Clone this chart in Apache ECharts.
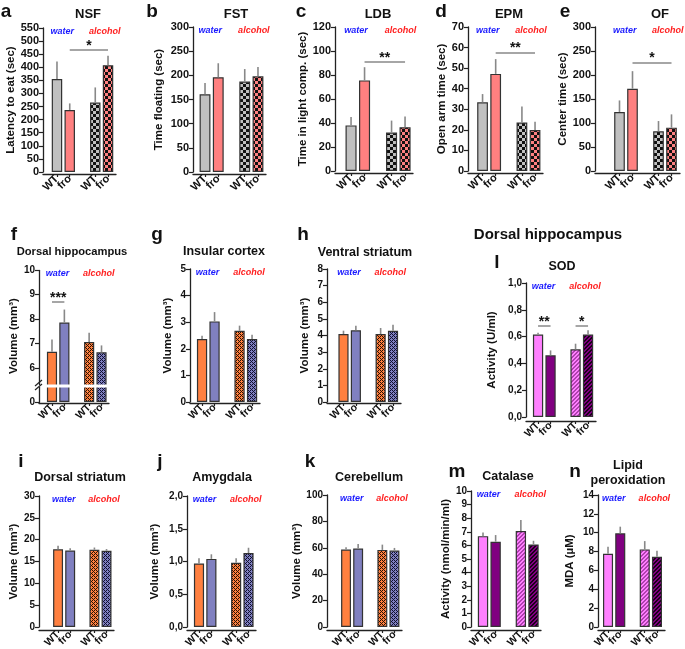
<!DOCTYPE html>
<html><head><meta charset="utf-8">
<script src="https://cdn.jsdelivr.net/npm/echarts@6.0.0/dist/echarts.min.js"></script>
<style>html,body{margin:0;padding:0;background:#fff}#c{width:685px;height:649px}</style>
</head><body><div id="c"></div>
<script>
// ---------- data ----------
const categories = ['WT', 'fro', '', 'WT', 'fro'];
const groupLabels = ['water', 'alcohol'];
const barSlots = [0, 1, 3, 4]; // water WT, water fro, alcohol WT, alcohol fro

// a NSF
const nsfMean = [355, 237, 265, 408];
const nsfSem = [67, 25, 58, 36];
const nsfSig = [[1, 4, 467, '*']];
// b FST
const fstMean = [161, 196, 187, 198];
const fstSem = [23, 29, 26, 19];
// c LDB
const ldbMean = [38, 75.5, 32, 36.5];
const ldbSem = [7, 11, 10, 9];
const ldbSig = [[1, 4, 91, '**']];
// d EPM
const epmMean = [33.4, 47.2, 23.6, 19.9];
const epmSem = [4, 7.2, 7.7, 4];
const epmSig = [[1, 4, 57.6, '**']];
// e OF
const ofMean = [123, 171.5, 82.6, 90.3];
const ofSem = [24, 36.5, 21.5, 27.7];
const ofSig = [[1, 4, 226, '*']];
// f dorsal hippocampus volume
const dhMean = [6.67, 7.86, 7.07, 6.65];
const dhSem = [0.5, 0.53, 0.38, 0.28];
const dhSig = [[0, 1, 8.7, '***']];
const dhTicks = [0, 6, 7, 8, 9, 10];
// g insular cortex
const icMean = [2.37, 3.03, 2.68, 2.37];
const icSem = [0.12, 0.35, 0.19, 0.16];
// h ventral striatum
const vsMean = [4.09, 4.31, 4.09, 4.29];
const vsSem = [0.2, 0.28, 0.36, 0.36];
// l SOD
const sodMean = [0.615, 0.46, 0.505, 0.615];
const sodSem = [0.013, 0.037, 0.042, 0.033];
const sodSig = [[0, 1, 0.678, '**'], [3, 4, 0.678, '*']];
// i dorsal striatum
const dsMean = [17.8, 17.5, 17.7, 17.45];
const dsSem = [0.8, 0.55, 0.5, 0.4];
// j amygdala
const amMean = [0.97, 1.04, 0.98, 1.13];
const amSem = [0.08, 0.07, 0.07, 0.08];
// k cerebellum
const cbMean = [58.7, 59.4, 58.4, 57.9];
const cbSem = [1.7, 3.5, 4, 2];
// m catalase
const catMean = [6.68, 6.27, 7.05, 6.07];
const catSem = [0.27, 0.49, 0.81, 0.27];
// n lipid peroxidation
const mdaMean = [7.77, 9.93, 8.23, 7.45];
const mdaSem = [0.73, 0.71, 0.88, 0.64];

// ---------- styles ----------
const FONT = '"Liberation Sans", Arial, sans-serif';
function tile(size, base, dark, isBase) {
  const c = document.createElement('canvas');
  c.width = size; c.height = size;
  const g = c.getContext('2d');
  g.fillStyle = dark; g.fillRect(0, 0, size, size);
  g.fillStyle = base;
  for (let x = 0; x < size; x++) for (let y = 0; y < size; y++) if (isBase(x, y)) g.fillRect(x, y, 1, 1);
  return { image: c, repeat: 'repeat' };
}
function wrapDist(a, b, n) { const d = Math.abs(a - b); return Math.min(d, n - d); }
function diamond(base, dark, n, r) {
  const h = n / 2;
  return tile(n, base, dark, (x, y) => {
    const d1 = wrapDist(x, 1, n) + wrapDist(y, 1, n);
    const d2 = wrapDist(x, 1 + h, n) + wrapDist(y, 1 + h, n);
    return d1 <= r || d2 <= r;
  });
}
function dots(base, dark) {
  // rounded dots of the base colour on a dark ground, diagonal lattice
  return tile(6, base, dark, (x, y) => {
    const a = wrapDist(x, 1, 6) ** 2 + wrapDist(y, 1, 6) ** 2;
    const b = wrapDist(x, 4, 6) ** 2 + wrapDist(y, 4, 6) ** 2;
    return a <= 2 || b <= 2 || a === 4 && (x === 1 || y === 1) && false;
  });
}
function stripes(base, dark) {
  return tile(4, base, dark, (x, y) => ((x + y) % 4) >= 2);
}
const schemes = {
  behav: ['#c0c0c0', '#ff8080', dots('#c0c0c0', '#111'), dots('#ff8080', '#111')],
  vol: ['#ff8040', '#8080c0', diamond('#ff8040', '#2a1000', 4, 1), diamond('#8080c0', '#101030', 4, 1)],
  ox: ['#ff80ff', '#800080', stripes('#ff80ff', '#b040b0'), stripes('#800080', '#1a001a')]
};

const panels = [
  { id: 'a', title: 'NSF', yName: 'Latency to eat (sec)', max: 550, step: 50, mean: nsfMean, sem: nsfSem, sig: nsfSig, scheme: 'behav' },
  { id: 'b', title: 'FST', yName: 'Time floating (sec)', max: 300, step: 50, mean: fstMean, sem: fstSem, sig: [], scheme: 'behav' },
  { id: 'c', title: 'LDB', yName: 'Time in light comp. (sec)', max: 120, step: 20, mean: ldbMean, sem: ldbSem, sig: ldbSig, scheme: 'behav' },
  { id: 'd', title: 'EPM', yName: 'Open arm time (sec)', max: 70, step: 10, mean: epmMean, sem: epmSem, sig: epmSig, scheme: 'behav' },
  { id: 'e', title: 'OF', yName: 'Center time (sec)', max: 300, step: 50, mean: ofMean, sem: ofSem, sig: ofSig, scheme: 'behav' },
  { id: 'f', title: 'Dorsal hippocampus', yName: 'Volume (mm\u00b3)', max: 10, step: 1, mean: dhMean, sem: dhSem, sig: dhSig, scheme: 'vol', ticks: dhTicks, brk: true },
  { id: 'g', title: 'Insular cortex', yName: 'Volume (mm\u00b3)', max: 5, step: 1, mean: icMean, sem: icSem, sig: [], scheme: 'vol' },
  { id: 'h', title: 'Ventral striatum', yName: 'Volume (mm\u00b3)', max: 8, step: 1, mean: vsMean, sem: vsSem, sig: [], scheme: 'vol' },
  { id: 'l', title: 'SOD', yName: 'Activity (U/ml)', max: 1, step: 0.2, dec: 1, mean: sodMean, sem: sodSem, sig: sodSig, scheme: 'ox' },
  { id: 'i', title: 'Dorsal striatum', yName: 'Volume (mm\u00b3)', max: 30, step: 5, mean: dsMean, sem: dsSem, sig: [], scheme: 'vol' },
  { id: 'j', title: 'Amygdala', yName: 'Volume (mm\u00b3)', max: 2, step: 0.5, dec: 1, mean: amMean, sem: amSem, sig: [], scheme: 'vol' },
  { id: 'k', title: 'Cerebellum', yName: 'Volume (mm\u00b3)', max: 100, step: 20, mean: cbMean, sem: cbSem, sig: [], scheme: 'vol' },
  { id: 'm', title: 'Catalase', yName: 'Activity (nmol/min/ml)', max: 10, step: 1, mean: catMean, sem: catSem, sig: [], scheme: 'ox' },
  { id: 'n', title: 'Lipid\nperoxidation', yName: 'MDA (\u00b5M)', max: 14, step: 2, mean: mdaMean, sem: mdaSem, sig: [], scheme: 'ox' }
];

// ---------- layout (pixels) ----------
const layout = {
  a: { ax: 43, l: 50.6, r: 114.4, end: 116, t: 28, b: 172, xo: 2, ng: 23.5, tx: 88, ty: 14, lx: 6, ly: 12, fs: 13, tf: 11, xf: 11 },
  b: { ax: 193, l: 198.4, r: 264.6, end: 266, t: 27, b: 172, xo: 2, ng: 28.5, tx: 236, ty: 14, lx: 152, ly: 12, fs: 13, tf: 11, xf: 11 },
  c: { ax: 335, l: 344.3, r: 411.8, end: 413, t: 27, b: 171, xo: 2, ng: 25.5, tx: 378, ty: 14, lx: 301, ly: 12, fs: 13, tf: 11, xf: 11 },
  d: { ax: 468, l: 476, r: 541.6, end: 543, t: 27, b: 171, xo: 2, ng: 12.5, tx: 509, ty: 14, lx: 441, ly: 12, fs: 13, tf: 11, xf: 11 },
  e: { ax: 595, l: 613, r: 678, end: 680, t: 27, b: 171, xo: 2, ng: 16.5, tx: 660, ty: 14, lx: 565, ly: 12, fs: 13, tf: 11, xf: 11 },
  f: { ax: 39, l: 45.8, r: 107.7, end: 109, t: 270, b: 402, xo: 1, ng: 19.5, tx: 72, ty: 252, lx: 14, ly: 235, fs: 11.2, tf: 10, xf: 10.5 },
  g: { ax: 190, l: 195.8, r: 258.3, end: 260, t: 269, b: 402, xo: 1, ng: 16.5, tx: 224, ty: 252, lx: 157, ly: 235, fs: 12.5, tf: 10, xf: 10.5 },
  h: { ax: 327, l: 337.3, r: 399.2, end: 401, t: 269, b: 402, xo: 1, ng: 16.5, tx: 365, ty: 253, lx: 303, ly: 235, fs: 12.5, tf: 10, xf: 10.5 },
  l: { ax: 526, l: 531.8, r: 594.3, end: 596, t: 283, b: 417, xo: 4, ng: 28.5, tx: 562, ty: 267, lx: 497, ly: 263, fs: 12.5, tf: 10, xf: 10.5 },
  i: { ax: 39, l: 52, r: 112.6, end: 114, t: 496, b: 627, xo: 3, ng: 15.5, tx: 80, ty: 478, lx: 21, ly: 462, fs: 12.5, tf: 10, xf: 10.5 },
  j: { ax: 187, l: 192.8, r: 254.7, end: 256, t: 496, b: 627, xo: 3, ng: 26.5, tx: 222, ty: 478, lx: 160, ly: 462, fs: 12.5, tf: 10, xf: 10.5 },
  k: { ax: 327, l: 340, r: 400.5, end: 402, t: 495, b: 627, xo: 3, ng: 16.5, tx: 369, ty: 478, lx: 310, ly: 462, fs: 12.5, tf: 10, xf: 10.5 },
  m: { ax: 471, l: 476.7, r: 539.8, end: 541, t: 491, b: 627, xo: 3, ng: 8.5, tx: 508, ty: 477, lx: 457, ly: 472, fs: 12.5, tf: 10, xf: 10.5 },
  n: { ax: 598, l: 601.9, r: 663.1, end: 665, t: 495, b: 627, xo: 3, ng: 22.5, tx: 628, ty: 473, lx: 575, ly: 472, fs: 12.5, tf: 10, xf: 10.5 }
};

const AX = '#222';
const grids = [], xAxes = [], yAxes = [], series = [], graphics = [];

function txt(x, y, text, font, fill, align) {
  graphics.push({
    type: 'text', x: x, y: y, silent: true,
    style: { text: text, font: font, fill: fill, align: align || 'center', verticalAlign: 'middle',
      textAlign: align || 'center', textVerticalAlign: 'middle', lineHeight: 15 }
  });
}

panels.forEach(p => {
  const L = layout[p.id];
  const h = L.b - L.t;
  const ga = grids.length;
  grids.push({ left: L.ax, top: L.t, width: L.end - L.ax, height: h, containLabel: false, outerBoundsMode: 'none' });
  xAxes.push({ gridIndex: ga, type: 'value', min: 0, max: 1, offset: L.xo,
    axisLine: { show: true, onZero: false, lineStyle: { color: AX, width: 1.3 } },
    axisTick: { show: false }, axisLabel: { show: false }, splitLine: { show: false } });
  yAxes.push({ gridIndex: ga, type: 'value', min: 0, max: 1, show: false });
  const gb = grids.length;
  grids.push({ left: L.l, top: L.t, width: L.r - L.l, height: h, containLabel: false, outerBoundsMode: 'none' });
  const xi = xAxes.length, yi = yAxes.length;
  xAxes.push({ gridIndex: gb, type: 'category', data: categories, offset: L.xo,
    axisLine: { show: false, onZero: false },
    axisTick: { show: true, alignWithLabel: true, length: 3, interval: (i, v) => v !== '', lineStyle: { color: AX, width: 1.2 } },
    axisLabel: { interval: 0, rotate: 45, margin: 3, color: '#111', fontWeight: 'bold', fontSize: L.xf, fontFamily: FONT },
    splitLine: { show: false } });
  const yAx = { gridIndex: gb, type: 'value', min: 0, max: p.max, interval: p.step, offset: L.l - L.ax,
    name: p.yName, nameLocation: 'middle', nameGap: L.ng, nameRotate: 90,
    nameTextStyle: { color: '#111', fontWeight: 'bold', fontSize: 11.5, fontFamily: FONT },
    axisLine: { show: true, onZero: false, lineStyle: { color: AX, width: 1.3 } },
    axisTick: { show: true, length: 4, inside: false, lineStyle: { color: AX, width: 1.2 } },
    axisLabel: { color: '#111', fontWeight: 'bold', fontSize: L.tf, fontFamily: FONT, margin: 4,
      formatter: v => p.dec ? v.toFixed(p.dec).replace('.', ',') : String(v) },
    splitLine: { show: false } };
  if (p.ticks) {
    yAx.axisLabel.customValues = p.ticks;
    yAx.axisTick.customValues = p.ticks;
  }
  if (p.brk) {
    yAx.breaks = [{ start: 0.6, end: 5.35, gap: '2.3%' }];
    yAx.breakArea = { show: true, itemStyle: { color: '#fff', borderColor: '#fff', borderWidth: 0, opacity: 1 }, zigzagAmplitude: 0, expandOnClick: false };
  }
  yAxes.push(yAx);

  const cols = schemes[p.scheme];
  const barData = categories.map((c, ci) => {
    const k = barSlots.indexOf(ci);
    if (k < 0) return '-';
    return { value: p.mean[k], itemStyle: { color: cols[k] } };
  });
  const sigLines = p.sig.map(s => [
    { coord: [s[0], s[2]], label: { formatter: s[3] } },
    { coord: [s[1], s[2]] }
  ]);
  series.push({ type: 'bar', xAxisIndex: xi, yAxisIndex: yi, data: barData, barWidth: '82%', animation: false,
    itemStyle: { borderColor: '#333', borderWidth: 1.2 },
    markLine: sigLines.length ? { silent: true, symbol: ['none', 'none'], animation: false,
      lineStyle: { color: '#888', width: 1.5, type: 'solid' },
      label: { show: true, position: 'insideMiddleTop', distance: -3, color: '#111', fontWeight: 'bold', fontSize: 14, fontFamily: FONT },
      emphasis: { disabled: true }, data: sigLines } : undefined });
  series.push({ type: 'custom', xAxisIndex: xi, yAxisIndex: yi, animation: false, z: 3,
    data: p.mean.map((m, k) => [barSlots[k], m, m + p.sem[k]]),
    encode: { x: 0, y: [1, 2] },
    renderItem: (params, api) => {
      const a = api.coord([api.value(0), api.value(1)]);
      const b = api.coord([api.value(0), api.value(2)]);
      return { type: 'line', shape: { x1: a[0], y1: a[1], x2: b[0], y2: b[1] }, style: { stroke: '#888', lineWidth: 1.6 } };
    } });

  const w = (L.r - L.l) / categories.length;
  const gy = L.t + 4;
  txt(L.l, gy, groupLabels[0], 'italic bold 9px ' + FONT, '#1a1aff', 'left');
  txt(L.l + 3 * w, gy, groupLabels[1], 'italic bold 9px ' + FONT, '#ff2020', 'left');
  txt(L.tx, L.ty, p.title, 'bold ' + L.fs + 'px ' + FONT, '#111');
  txt(L.lx, L.ly, p.id, 'bold 19px ' + FONT, '#111');
  if (p.brk) {
    [-2, 2].forEach(dy => graphics.push({ type: 'line', silent: true,
      shape: { x1: L.ax - 4, y1: 388 + dy, x2: L.ax + 3, y2: 382 + dy }, style: { stroke: AX, lineWidth: 1.2 } }));
  }
});
txt(548, 235, 'Dorsal hippocampus', 'bold 15px ' + FONT, '#111');

const chart = echarts.init(document.getElementById('c'), null, { renderer: 'canvas' });
chart.setOption({
  animation: false,
  backgroundColor: '#fff',
  textStyle: { fontFamily: FONT },
  grid: grids, xAxis: xAxes, yAxis: yAxes, series: series, graphic: graphics
});
</script></body></html>
